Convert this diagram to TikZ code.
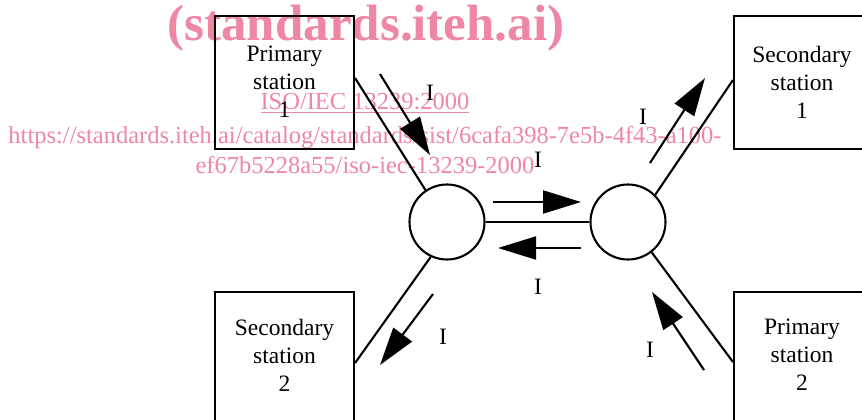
\documentclass[tikz,border=0pt]{standalone}
\usepackage{fontspec}
\setmainfont{Liberation Serif}
\usetikzlibrary{arrows.meta}
\definecolor{wm}{RGB}{238,134,164}
\begin{document}
\begin{tikzpicture}[x=1pt,y=-1pt,
  stationbox/.style={draw,line width=2.1pt,inner sep=0pt},
  stationtext/.style={align=center,inner sep=0pt,font=\fontsize{23.5}{28}\selectfont},
  hub/.style={draw,circle,line width=2.1pt,minimum size=75pt,inner sep=0pt},
  link/.style={line width=2.1pt},
  flow/.style={line width=2.1pt,-{Triangle[length=38pt,width=23pt]}},
  lbl/.style={inner sep=0pt,font=\fontsize{23.5}{28}\selectfont},
  wmtext/.style={text=wm,inner sep=0pt,anchor=base,font=\fontsize{24.5}{30}\selectfont}]
\useasboundingbox (0,0) rectangle (862,420);
\clip (0,0) rectangle (862,420);
% watermark
\node[text=wm,inner sep=0pt,font=\fontsize{51}{60}\selectfont\bfseries] (wm1) at (366,28) {(standards.iteh.ai)};
\node[wmtext] (wm2) at (365,110) {\underline{ISO/IEC 13239:2000}};
\node[wmtext] (wm3) at (365,143) {https://standards.iteh.ai/catalog/standards/sist/6cafa398-7e5b-4f43-a100-};
\node[wmtext] (wm4) at (365,173) {ef67b5228a55/iso-iec-13239-2000};
% stations
\node[stationbox,minimum width=139pt,minimum height=133pt] (P1) at (284.5,82.5) {};
\node[stationtext] (P1t) at (284.5,82) {Primary\\station\\1};
\node[stationbox,minimum width=136pt,minimum height=133pt] (S1) at (802,82.5) {};
\node[stationtext] (S1t) at (802,82) {Secondary\\station\\1};
\node[stationbox,minimum width=139pt,minimum height=140pt] (S2) at (284.5,362) {};
\node[stationtext] (S2t) at (284.5,355) {Secondary\\station\\2};
\node[stationbox,minimum width=136pt,minimum height=140pt] (P2) at (802,362) {};
\node[stationtext] (P2t) at (802,355) {Primary\\station\\2};
% hubs
\node[hub] (L) at (447,222) {};
\node[hub] (R) at (628,222) {};
% links
\draw[link] (P1.east |- 0,78) -- (L.124);
\draw[link] (L.-115) -- (S2.east |- 0,363);
\draw[link] (L.east) -- (R.west);
\draw[link] (R.45) -- (S1.west |- 0,80);
\draw[link] (R.-52) -- (P2.west |- 0,362);
% flow arrows
\coordinate (a1s) at (380,74); \coordinate (a1e) at (430,155);
\coordinate (a2s) at (493,202); \coordinate (a2e) at (581,202);
\coordinate (a3s) at (581,248); \coordinate (a3e) at (498,248);
\coordinate (a4s) at (650,163); \coordinate (a4e) at (705,78);
\coordinate (a5s) at (433,294); \coordinate (a5e) at (380,365);
\coordinate (a6s) at (704,370); \coordinate (a6e) at (652,292);
\draw[flow] (a1s) -- (a1e);
\draw[flow] (a2s) -- (a2e);
\draw[flow] (a3s) -- (a3e);
\draw[flow] (a4s) -- (a4e);
\draw[flow] (a5s) -- (a5e);
\draw[flow] (a6s) -- (a6e);
% labels
\node[lbl] (l1) at (430,93) {I};
\node[lbl] (l2) at (538,160) {I};
\node[lbl] (l3) at (538,287) {I};
\node[lbl] (l4) at (643,117) {I};
\node[lbl] (l5) at (443,337) {I};
\node[lbl] (l6) at (650,350) {I};
\end{tikzpicture}
\end{document}
